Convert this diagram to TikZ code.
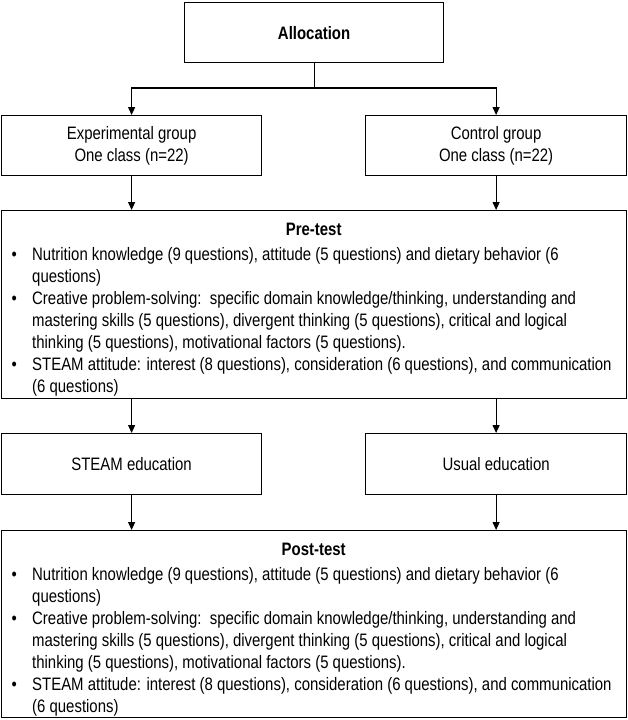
\documentclass[tikz,border=0pt]{standalone}
\usepackage{fontspec}
\setmainfont{Liberation Sans}[FakeStretch=0.83]
\usetikzlibrary{arrows.meta}
\newcommand{\bodysize}{\fontsize{18}{22}\selectfont}
\newcommand{\bulletline}[1]{\hangindent=31pt\hangafter=1\noindent\makebox[31pt][l]{\hspace{10.5pt}•}#1\par}
\newcommand{\testcontent}[1]{%
\begin{minipage}{625pt}\bodysize\raggedright
{\centering\textbf{#1}\par}\vspace{3pt}
\bulletline{Nutrition knowledge (9 questions), attitude (5 questions) and dietary behavior (6\newline questions)}
\bulletline{Creative problem-solving:\ \ specific domain knowledge/thinking, understanding and\newline mastering skills (5 questions), divergent thinking (5 questions), critical and logical\newline thinking (5 questions), motivational factors (5 questions).}
\bulletline{STEAM attitude: interest (8 questions), consideration (6 questions), and communication\newline (6 questions)}
\end{minipage}}
\tikzset{
  box/.style={draw=black, line width=1.2pt, fill=white, inner sep=0pt, anchor=north west, align=center, font=\bodysize},
  txt/.style={inner sep=0pt, anchor=north west},
  arr/.style={line width=1.2pt, -{Triangle[length=8pt,width=7pt]}},
  ln/.style={line width=1.2pt}
}
\begin{document}
\begin{tikzpicture}[x=1pt,y=-1pt]
\useasboundingbox[fill=white] (0,0) rectangle (628,720);
% boxes
\node[box, minimum width=259pt, minimum height=60pt] (alloc) at (184,2) {\textbf{Allocation}};
\node[box, minimum width=260pt, minimum height=60pt] (exp) at (1,115) {Experimental group\\[0pt]One class (n=22)};
\node[box, minimum width=261pt, minimum height=60pt] (ctrl) at (365,115) {Control group\\[0pt]One class (n=22)};
\node[box, minimum width=625pt, minimum height=188pt] (pre) at (1,210) {};
\node[box, minimum width=260pt, minimum height=61pt] (steam) at (1,433) {STEAM education};
\node[box, minimum width=261pt, minimum height=61pt] (usual) at (365,433) {Usual education};
\node[box, minimum width=625pt, minimum height=187pt] (post) at (1,530) {};
% texts in the test boxes
\node[txt] (pretext) at ([yshift=-13pt]pre.north west) {\testcontent{Pre-test}};
\node[txt] (posttext) at ([yshift=-13pt]post.north west) {\testcontent{Post-test}};
% connectors
\coordinate (split) at (alloc.south |- 0,88);
\draw[ln] (alloc.south) -- (split);
\draw[arr] (split) -| (exp.north);
\draw[arr] (split) -| (ctrl.north);
\draw[arr] (exp.south) -- (exp.south |- pre.north);
\draw[arr] (ctrl.south) -- (ctrl.south |- pre.north);
\draw[arr] (exp.south |- pre.south) -- (steam.north);
\draw[arr] (ctrl.south |- pre.south) -- (usual.north);
\draw[arr] (steam.south) -- (steam.south |- post.north);
\draw[arr] (usual.south) -- (usual.south |- post.north);
\end{tikzpicture}
\end{document}
